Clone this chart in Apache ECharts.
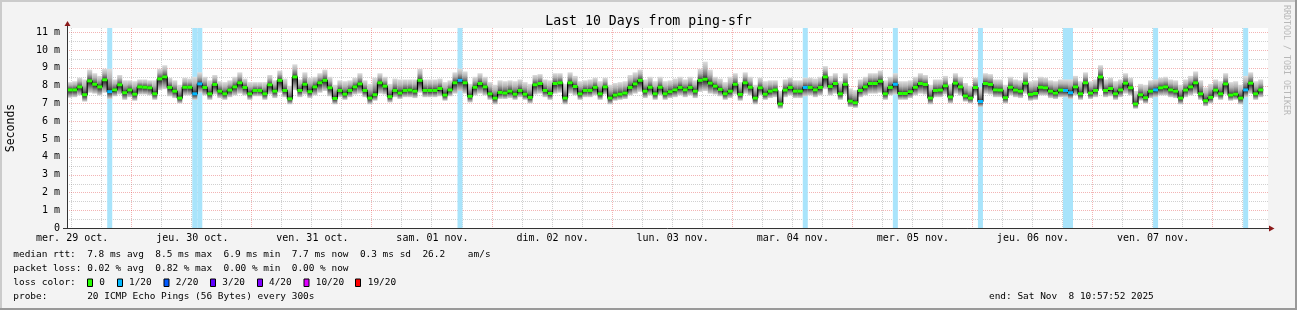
<!DOCTYPE html>
<html><head><meta charset="utf-8">
<script src="https://cdn.jsdelivr.net/npm/echarts@6/dist/echarts.min.js"></script>
<style>html,body{margin:0;padding:0;background:#f3f3f3}#c{width:1297px;height:310px}</style>
</head><body><div id="c"></div><script>
// ---------------- data ----------------
const titleText = 'Last 10 Days from ping-sfr';
const yAxisName = 'Seconds';
const dayLabels = ['mer. 29 oct.','jeu. 30 oct.','ven. 31 oct.','sam. 01 nov.','dim. 02 nov.',
  'lun. 03 nov.','mar. 04 nov.','mer. 05 nov.','jeu. 06 nov.','ven. 07 nov.'];
// hours since Wed 29 Oct 00:00
const axisStartHour = 10 + 57/60 + 52/3600;   // 10:57:52
const axisSpanHours = 240;                      // 10 days
const firstStepHour = 11;                       // first 1-hour consolidated step
const yTickValues = [0,1,2,3,4,5,6,7,8,9,10,11];
const yAxisMaxMs = 11.24;

// median RTT (ms) per 1-hour step
const medianMs = [
7.76,7.76,7.93,7.49,8.27,8.08,7.93,8.33,7.66,7.76,
8.05,7.60,7.76,7.52,7.93,7.91,7.88,7.54,8.38,8.49,
7.90,7.69,7.30,7.91,7.91,7.54,8.10,7.90,7.54,8.07,
7.69,7.54,7.75,7.93,8.16,7.90,7.54,7.73,7.73,7.54,
8.05,7.69,8.30,7.73,7.26,8.49,7.73,8.08,7.66,7.93,
8.16,8.30,7.88,7.28,7.73,7.52,7.73,7.93,8.10,7.73,
7.30,7.49,8.16,7.97,7.38,7.73,7.58,7.73,7.75,7.69,
8.30,7.73,7.73,7.73,7.84,7.47,7.76,8.16,8.30,8.16,
7.40,7.91,8.12,7.93,7.54,7.30,7.62,7.58,7.69,7.52,
7.73,7.52,7.34,8.05,8.12,7.73,7.56,8.12,8.16,7.30,
8.16,7.95,7.54,7.73,7.73,7.91,7.54,7.93,7.30,7.47,
7.52,7.58,7.90,8.10,8.30,7.69,7.91,7.54,7.91,7.54,
7.66,7.76,7.90,7.76,7.90,7.69,8.30,8.36,8.14,7.97,
7.79,7.54,7.69,8.08,7.51,8.16,7.91,7.30,7.88,7.52,
7.69,7.76,6.97,7.75,7.90,7.69,7.69,7.90,7.90,7.76,
7.90,8.49,7.95,8.12,7.54,8.08,7.13,7.04,7.73,7.93,
8.12,8.12,8.25,7.54,7.90,8.08,7.56,7.56,7.66,7.91,
8.12,8.07,7.30,7.73,7.75,7.99,7.36,8.14,7.93,7.42,
7.30,7.90,7.11,8.12,8.07,7.76,7.75,7.32,7.91,7.75,
7.69,8.14,7.51,7.56,7.91,7.88,7.69,7.58,7.75,7.73,
7.60,7.93,7.54,8.16,7.58,7.73,8.49,7.73,7.84,7.54,
7.76,8.14,7.88,6.97,7.49,7.32,7.69,7.76,7.88,7.93,
7.76,7.69,7.30,7.75,7.93,8.16,7.54,7.15,7.34,7.75,
7.54,8.10,7.47,7.52,7.30,7.76,8.14,7.54,7.76];

// top of the ping "smoke" per step (ms)
const smokeHiMs = [
8.20,8.25,8.45,8.35,8.90,8.70,8.55,8.95,8.95,8.35,
8.60,8.30,8.30,8.25,8.35,8.35,8.30,8.30,8.95,9.15,
8.45,8.30,8.05,8.45,8.40,8.50,8.75,8.50,8.30,8.60,
8.25,8.20,8.30,8.50,8.75,8.40,8.20,8.20,8.20,8.20,
8.60,8.30,8.85,8.40,8.00,9.20,8.35,8.75,8.45,8.50,
8.70,8.90,8.50,8.05,8.30,8.25,8.30,8.45,8.70,8.30,
8.10,8.45,8.70,8.50,8.10,8.40,8.35,8.35,8.35,8.35,
8.95,8.35,8.35,8.35,8.40,8.20,8.30,8.75,8.95,8.80,
8.10,8.50,8.70,8.50,8.20,8.05,8.30,8.25,8.30,8.25,
8.35,8.20,8.10,8.60,8.65,8.35,8.30,8.70,8.70,8.10,
8.75,8.55,8.25,8.30,8.35,8.45,8.25,8.45,8.05,8.15,
8.20,8.25,8.60,8.75,8.90,8.35,8.50,8.25,8.50,8.25,
8.30,8.40,8.50,8.35,8.50,8.30,8.95,9.35,8.90,8.50,
8.40,8.20,8.50,8.70,8.20,8.75,8.50,8.05,8.45,8.25,
8.30,8.30,7.70,8.35,8.45,8.30,8.30,8.45,8.45,8.40,
8.50,9.10,8.55,8.70,8.25,8.70,7.85,7.75,8.35,8.50,
8.70,8.70,8.85,8.30,8.50,8.70,8.25,8.25,8.30,8.50,
8.70,8.60,8.05,8.35,8.35,8.55,8.10,8.70,8.50,8.15,
8.00,8.45,7.90,8.70,8.65,8.35,8.35,8.05,8.50,8.35,
8.30,8.75,8.25,8.30,8.50,8.45,8.30,8.25,8.35,8.35,
8.35,8.55,8.25,8.75,8.25,8.35,9.15,8.35,8.45,8.25,
8.35,8.70,8.45,7.70,8.10,8.05,8.30,8.35,8.45,8.50,
8.35,8.30,8.05,8.35,8.55,8.80,8.30,7.90,8.10,8.35,
8.25,8.70,8.20,8.25,8.05,8.55,8.75,8.25,8.35];

// bottom of the ping "smoke" per step (ms)
const smokeLoMs = [
7.32,7.35,7.45,7.10,7.60,7.55,7.45,7.60,7.25,7.40,
7.50,7.20,7.35,7.15,7.50,7.50,7.45,7.20,7.75,7.80,
7.40,7.30,7.00,7.45,7.45,7.20,7.60,7.45,7.20,7.50,
7.30,7.20,7.35,7.45,7.55,7.45,7.20,7.40,7.40,7.20,
7.50,7.30,7.60,7.35,6.95,7.75,7.35,7.50,7.30,7.45,
7.60,7.70,7.40,6.95,7.35,7.20,7.35,7.50,7.55,7.35,
6.95,7.15,7.55,7.50,7.05,7.35,7.25,7.35,7.35,7.30,
7.60,7.35,7.35,7.35,7.40,7.15,7.40,7.55,7.70,7.55,
7.05,7.45,7.55,7.45,7.20,6.95,7.25,7.25,7.30,7.20,
7.35,7.20,7.00,7.50,7.55,7.35,7.20,7.55,7.60,6.95,
7.55,7.45,7.20,7.35,7.35,7.45,7.20,7.50,6.95,7.15,
7.20,7.25,7.45,7.55,7.65,7.30,7.45,7.20,7.45,7.20,
7.30,7.35,7.45,7.35,7.45,7.30,7.65,7.70,7.55,7.50,
7.40,7.20,7.30,7.50,7.15,7.55,7.45,6.95,7.45,7.20,
7.30,7.35,6.70,7.35,7.45,7.30,7.30,7.40,7.45,7.35,
7.45,7.80,7.45,7.55,7.20,7.50,6.80,6.75,7.35,7.45,
7.55,7.55,7.60,7.20,7.45,7.50,7.20,7.20,7.30,7.45,
7.55,7.50,6.95,7.35,7.35,7.50,7.00,7.55,7.45,7.10,
7.00,7.45,6.80,7.55,7.50,7.35,7.35,7.00,7.45,7.35,
7.30,7.55,7.15,7.20,7.45,7.45,7.30,7.25,7.35,7.35,
7.25,7.45,7.20,7.55,7.25,7.35,7.80,7.35,7.40,7.20,
7.35,7.55,7.45,6.70,7.15,7.00,7.30,7.35,7.45,7.45,
7.35,7.30,6.95,7.35,7.45,7.55,7.20,6.85,7.00,7.35,
7.20,7.50,7.15,7.20,6.95,7.35,7.55,7.20,7.35];

// steps (index into medianMs) that had 1/20 packet loss
const lossSteps = [8,25,26,78,147,165,182,199,200,217,235];

const lossLegendLabels = ['0','1/20','2/20','3/20','4/20','10/20','19/20'];
const lossLegendColors = ['#26ff00','#00b8ff','#0059ff','#5e00ff','#7e00ff','#dd00ff','#ff0000'];

const statLine1 = 'median rtt:  7.8 ms avg  8.5 ms max  6.9 ms min  7.7 ms now  0.3 ms sd  26.2    am/s';
const statLine2 = 'packet loss: 0.02 % avg  0.82 % max  0.00 % min  0.00 % now';
const lossLabel = 'loss color:';
const probeLabel = 'probe:       20 ICMP Echo Pings (56 Bytes) every 300s';
const endLabel = 'end: Sat Nov  8 10:57:52 2025';
const creditText = 'RRDTOOL / TOBI OETIKER';

// ---------------- chart ----------------
const FONT = '"DejaVu Sans Mono", monospace';
const lossSet = new Set(lossSteps);
const stepData = medianMs.map((v, k) => [firstStepHour + k, firstStepHour + k + 1, v, smokeHiMs[k], smokeLoMs[k], lossSet.has(k) ? 1 : 0]);
const lineData = medianMs.map((v, k) => [firstStepHour + k, v]);
lineData.push([firstStepHour + medianMs.length, medianMs[medianMs.length - 1]]);

const xMin = axisStartHour, xMax = axisStartHour + axisSpanHours;
const vLines = [];
for (let h = Math.ceil(xMin / 6) * 6; h < xMax; h += 6) vLines.push([h, h % 24 === 0 ? 1 : 0]);
const hLines = [];
for (let v = 0.5; v <= 11.001; v += 0.5) hLines.push([xMin, v, Math.abs(v - Math.round(v)) < 1e-6 ? 1 : 0]);

const MAJOR = 'rgba(222,48,48,0.36)';
const MINOR = 'rgba(143,143,143,0.42)';

const chart = echarts.init(document.getElementById('c'), null, {renderer: 'canvas'});

function legendGraphics() {
  const g = [];
  const y1 = 254.5, y2 = 268.5, y3 = 282.5, y4 = 296.3;
  const txt = (x, y, t, extra) => Object.assign({type: 'text', x, y, silent: true,
    style: {text: t, font: '9.45px ' + FONT, fill: '#000', textVerticalAlign: 'middle'}}, extra || {});
  g.push(txt(13.3, y1, statLine1));
  g.push(txt(13.3, y2, statLine2));
  g.push(txt(13.3, y3, lossLabel));
  g.push(txt(13.3, y4, probeLabel));
  g.push(txt(989, y4, endLabel));
  const swX = [87.5, 117.5, 164, 210.5, 257.5, 304, 355.5];
  const lbX = [99.3, 129, 175.7, 222.3, 269, 315.7, 367.7];
  lossLegendLabels.forEach((lab, i) => {
    g.push({type: 'rect', silent: true, shape: {x: swX[i], y: y3 - 3.5, width: 5, height: 7.5},
      style: {fill: lossLegendColors[i], stroke: '#000', lineWidth: 1}});
    g.push(txt(lbX[i], y3, lab));
  });
  return g;
}

const option = {
  animation: false,
  backgroundColor: '#f3f3f3',
  grid: {left: 67, right: 29, top: 28, bottom: 82, show: true, backgroundColor: '#ffffff', borderWidth: 0,
    containLabel: false, outerBoundsMode: 'none'},
  xAxis: {
    type: 'value', min: xMin, max: xMax, z: 10,
    axisLine: {show: true, onZero: false, lineStyle: {color: '#333', width: 1}},
    axisTick: {show: false},
    splitLine: {show: false},
    axisLabel: {
      customValues: dayLabels.map((_, i) => 12 + 24 * i),
      formatter: v => dayLabels[Math.round((v - 12) / 24)] || '',
      fontFamily: FONT, fontSize: 10, color: '#000', margin: 5
    }
  },
  yAxis: {
    type: 'value', min: 0, max: yAxisMaxMs, interval: 1, z: 10,
    name: yAxisName, nameLocation: 'middle', nameGap: 50, nameRotate: 90,
    nameTextStyle: {fontFamily: FONT, fontSize: 11.5, color: '#000'},
    axisLine: {show: true, lineStyle: {color: '#333', width: 1}},
    axisTick: {show: false},
    splitLine: {show: false},
    axisLabel: {
      customValues: yTickValues,
      formatter: v => (Math.abs(v - Math.round(v)) > 1e-6 ? '' : (v === 0 ? '0' : Math.round(v) + ' m')),
      fontFamily: FONT, fontSize: 10, color: '#000', margin: 7
    }
  },
  title: {
    text: titleText, left: 'center', top: 10,
    textStyle: {fontFamily: FONT, fontSize: 13.2, fontWeight: 'normal', color: '#000'}
  },
  graphic: [
    // frame
    {type: 'rect', silent: true, shape: {x: 0, y: 0, width: 1297, height: 2}, style: {fill: '#cbcbcb'}},
    {type: 'rect', silent: true, shape: {x: 0, y: 0, width: 2, height: 310}, style: {fill: '#cbcbcb'}},
    {type: 'rect', silent: true, shape: {x: 0, y: 308, width: 1297, height: 2}, style: {fill: '#999999'}},
    {type: 'rect', silent: true, shape: {x: 1295, y: 0, width: 2, height: 310}, style: {fill: '#999999'}},
    // axis extensions and arrows
    {type: 'line', silent: true, shape: {x1: 67.5, y1: 28, x2: 67.5, y2: 23}, style: {stroke: '#333', lineWidth: 1}},
    {type: 'line', silent: true, shape: {x1: 63, y1: 228.5, x2: 67, y2: 228.5}, style: {stroke: '#333', lineWidth: 1}},
    {type: 'line', silent: true, shape: {x1: 1268, y1: 228.5, x2: 1270, y2: 228.5}, style: {stroke: '#333', lineWidth: 1}},
    {type: 'polygon', silent: true, shape: {points: [[64.5, 26], [70.5, 26], [67.5, 21]]}, style: {fill: '#8b1a1a'}},
    {type: 'polygon', silent: true, shape: {points: [[1269, 225.5], [1269, 231.5], [1274.5, 228.5]]}, style: {fill: '#8b1a1a'}},
    // credit
    {type: 'text', silent: true, x: 1286.5, y: 5, rotation: -Math.PI / 2,
      style: {text: creditText, font: '8.3px ' + FONT, fill: '#b8b8b8', textAlign: 'left', textVerticalAlign: 'middle'}}
  ].concat(legendGraphics()),
  series: [
    {
      type: 'custom', name: 'vgrid', z: 1, silent: true, data: vLines,
      renderItem: (params, api) => {
        const cs = params.coordSys;
        const x = Math.round(api.coord([api.value(0), 0])[0]) - 0.5;
        return {type: 'line', shape: {x1: x, y1: cs.y, x2: x, y2: cs.y + cs.height},
          style: {stroke: api.value(1) ? MAJOR : MINOR, lineWidth: 1, lineDash: [1, 1]}};
      }
    },
    {
      type: 'custom', name: 'hgrid', z: 1, silent: true, data: hLines,
      renderItem: (params, api) => {
        const cs = params.coordSys;
        const y = Math.round(api.coord([api.value(0), api.value(1)])[1]) + 0.5;
        return {type: 'line', shape: {x1: cs.x, y1: y, x2: cs.x + cs.width, y2: y},
          style: {stroke: api.value(2) ? MAJOR : MINOR, lineWidth: 1, lineDash: [1, 1]}};
      }
    },
    {
      type: 'custom', name: 'loss', z: 2, silent: true,
      data: lossSteps.map(k => [firstStepHour + k, firstStepHour + k + 1]),
      renderItem: (params, api) => {
        const cs = params.coordSys;
        const a = api.coord([api.value(0), 0]), b = api.coord([api.value(1), 0]);
        return {type: 'rect', shape: {x: a[0], y: cs.y, width: b[0] - a[0], height: cs.height},
          style: {fill: '#a9e4fb'}};
      }
    },
    {
      type: 'custom', name: 'smoke', z: 3, silent: true, data: stepData,
      encode: {x: [0, 1], y: [2, 3, 4]},
      renderItem: (params, api) => {
        const x0 = api.value(0), x1 = api.value(1), med = api.value(2), hi = api.value(3), lo = api.value(4);
        const a = api.coord([x0, hi]), b = api.coord([x1, lo]);
        const p = Math.min(0.98, Math.max(0.02, (hi - med) / (hi - lo)));
        const q = 1 - p;
        return {type: 'rect', shape: {x: a[0], y: a[1], width: b[0] - a[0], height: b[1] - a[1]},
          style: {fill: new echarts.graphic.LinearGradient(0, 0, 0, 1, [
            {offset: 0, color: '#dedede'},
            {offset: p * 0.4, color: '#b4b4b4'},
            {offset: p * 0.75, color: '#707070'},
            {offset: p, color: '#222222'},
            {offset: p + q * 0.25, color: '#4a4a4a'},
            {offset: p + q * 0.65, color: '#999999'},
            {offset: 1, color: '#d6d6d6'}
          ])}};
      }
    },
    {
      type: 'line', name: 'median-line', z: 4, silent: true, step: 'end', symbol: 'none',
      data: lineData, lineStyle: {color: '#000', width: 1.2}
    },
    {
      type: 'custom', name: 'median', z: 5, silent: true, data: stepData,
      encode: {x: [0, 1], y: 2},
      renderItem: (params, api) => {
        const a = api.coord([api.value(0), api.value(2)]), b = api.coord([api.value(1), api.value(2)]);
        return {type: 'rect', shape: {x: a[0], y: a[1] - 1.5, width: b[0] - a[0], height: 3},
          style: {fill: api.value(5) ? '#00b8ff' : '#26ff00'}};
      }
    }
  ]
};
chart.setOption(option);
</script></body></html>
